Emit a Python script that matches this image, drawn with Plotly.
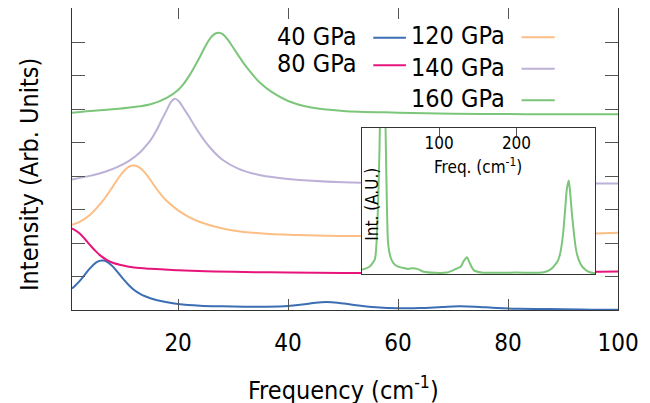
import plotly.graph_objects as go

FONT = "DejaVu Sans Condensed, DejaVu Sans, sans-serif"

# ---- data ----
names = ["40 GPa", "80 GPa", "120 GPa", "140 GPa", "160 GPa"]
colors = ["#3C6EB4", "#E7157B", "#FDBE85", "#BDB1D7", "#7CC67A"]

x40 = [0.7, 2, 3, 4, 5, 5.7, 6.3, 7, 8, 9, 10, 11, 12, 13, 14, 16, 18, 20, 24, 28, 32, 36, 40, 43, 45, 47, 49, 52, 56, 60, 64, 68, 71, 74, 78, 82, 86, 90, 95, 100]
y40 = [0.64, 0.85, 1.05, 1.25, 1.41, 1.47, 1.48, 1.45, 1.32, 1.13, 0.93, 0.75, 0.60, 0.49, 0.41, 0.30, 0.23, 0.18, 0.13, 0.11, 0.10, 0.10, 0.12, 0.17, 0.22, 0.24, 0.22, 0.15, 0.08, 0.05, 0.06, 0.09, 0.11, 0.10, 0.06, 0.04, 0.03, 0.02, 0.01, 0.01]

x80 = [0.7, 2, 3, 4, 5, 6, 7, 8, 10, 12, 15, 20, 25, 30, 40, 50, 60, 70, 80, 90, 100]
y80 = [2.44, 2.30, 2.13, 1.94, 1.76, 1.61, 1.50, 1.42, 1.33, 1.27, 1.23, 1.19, 1.16, 1.14, 1.12, 1.11, 1.11, 1.11, 1.12, 1.13, 1.15]

x120 = [0.7, 2, 4, 6, 7, 8, 9, 10, 11, 12, 13, 14, 15, 16, 17, 18, 20, 22, 24, 27, 30, 36, 45, 55, 65, 75, 85, 95, 100]
y120 = [2.55, 2.63, 2.85, 3.20, 3.42, 3.66, 3.91, 4.13, 4.28, 4.32, 4.26, 4.10, 3.88, 3.64, 3.43, 3.25, 2.98, 2.78, 2.63, 2.48, 2.38, 2.28, 2.23, 2.21, 2.21, 2.22, 2.24, 2.28, 2.31]

x140 = [0.7, 3, 5, 7, 9, 11, 13, 14, 15, 16, 17, 18, 18.7, 19.4, 20.1, 21, 22, 23, 24, 25, 26, 28, 31, 35, 40, 50, 60, 70, 80, 90, 100]
y140 = [3.90, 3.98, 4.05, 4.15, 4.28, 4.45, 4.70, 4.88, 5.08, 5.35, 5.68, 6.00, 6.22, 6.32, 6.25, 6.03, 5.78, 5.50, 5.25, 5.02, 4.82, 4.50, 4.22, 4.03, 3.92, 3.82, 3.79, 3.78, 3.78, 3.78, 3.78]

x160 = [0.7, 4, 8, 12, 15, 18, 20, 21, 22, 23, 24, 25, 26, 26.7, 27.4, 28.1, 29, 30, 31, 32, 33, 34, 35, 37, 40, 44, 50, 60, 70, 80, 90, 100]
y160 = [5.90, 5.95, 6.00, 6.07, 6.15, 6.35, 6.58, 6.76, 7.00, 7.28, 7.58, 7.90, 8.16, 8.26, 8.29, 8.25, 8.09, 7.85, 7.60, 7.36, 7.15, 6.95, 6.78, 6.52, 6.25, 6.06, 5.95, 5.90, 5.87, 5.86, 5.85, 5.85]

# inset (160 GPa, wide range)
xin = [0, 10, 17, 19, 21, 23, 25, 27.2, 29.5, 31, 32.5, 34, 37, 41, 47, 55, 60, 66, 72, 80, 95, 110, 118, 124, 128, 132, 136, 140, 145, 155, 180, 200, 225, 235, 242, 247, 250, 253, 256, 259, 261, 263, 265, 267.6, 269.5, 271.5, 273.8, 276, 278, 281, 285, 290, 296, 302]
yin = [0.03, 0.05, 0.10, 0.20, 0.45, 0.85, 1.50, 2.00, 1.50, 0.95, 0.50, 0.22, 0.12, 0.075, 0.05, 0.04, 0.035, 0.04, 0.035, 0.015, 0.008, 0.01, 0.025, 0.04, 0.05, 0.09, 0.115, 0.07, 0.025, 0.01, 0.008, 0.01, 0.008, 0.012, 0.025, 0.045, 0.065, 0.085, 0.13, 0.22, 0.32, 0.45, 0.58, 0.64, 0.55, 0.42, 0.30, 0.20, 0.14, 0.09, 0.05, 0.025, 0.01, 0.005]

main_x_ticks = [20, 40, 60, 80, 100]
inset_x_ticks = [100, 200]

xs = [x40, x80, x120, x140, x160]
ys = [y40, y80, y120, y140, y160]

fig = go.Figure()
for n, c, xx, yy in zip(names, colors, xs, ys):
    fig.add_trace(go.Scatter(x=xx, y=yy, name=n, mode="lines",
                             line=dict(color=c, width=2, shape="spline", smoothing=1.0),
                             xaxis="x", yaxis="y", showlegend=False))
fig.add_trace(go.Scatter(x=xin, y=yin, name="160 GPa inset", mode="lines",
                         line=dict(color=colors[4], width=2, shape="spline", smoothing=0.6),
                         xaxis="x2", yaxis="y2", showlegend=False))

# plot geometry in (window) pixels; page body has an 8px margin
OFF = 8
FW, FH = 650 - OFF, 403 - OFF
L, R, T, B = 71.7 - OFF, 618.3 - OFF, 8.3 - OFF, 310.3 - OFF
W, H = R - L, B - T
def px(xp):
    return (xp - OFF - L) / W
def py(yp):
    return (B - (yp - OFF)) / H

axcol = "#333333"
tickcol = "#555555"
fig.update_layout(
    width=FW, height=FH,
    margin=dict(l=L, r=FW - R, t=max(T, 0), b=FH - B, pad=0),
    paper_bgcolor="white", plot_bgcolor="white",
    font=dict(family=FONT, size=24, color="black"),
    xaxis=dict(domain=[0, 1], range=[0.7, 100], tickvals=main_x_ticks,
               ticks="inside", ticklen=11, tickcolor=tickcol, tickwidth=1,
               showline=True, linecolor=axcol, linewidth=1, mirror="ticks",
               showgrid=False, zeroline=False, ticklabelstandoff=11,
               tickfont=dict(size=24, color="black")),
    yaxis=dict(domain=[0, 1], range=[0, 9.03], dtick=1, tick0=0,
               ticks="inside", ticklen=13, tickcolor=tickcol, tickwidth=1,
               showline=True, linecolor=axcol, linewidth=1, mirror="ticks",
               showgrid=False, zeroline=False, showticklabels=False),
    xaxis2=dict(domain=[px(361.7), px(595.7)], range=[0, 302], anchor="y2",
                side="top", tickvals=inset_x_ticks, ticks="inside", ticklen=8,
                tickcolor=tickcol, ticklabelposition="inside",
                showline=True, linecolor=axcol, linewidth=1, mirror=True,
                showgrid=False, zeroline=False, ticklabelstandoff=2,
                tickfont=dict(size=17, color="black")),
    yaxis2=dict(domain=[py(274.3), py(128.3)], range=[0, 1], anchor="x2",
                showticklabels=False, ticks="",
                showline=True, linecolor=axcol, linewidth=1, mirror=True,
                showgrid=False, zeroline=False),
)

ann = []
# axis titles
ann.append(dict(text="Frequency (cm<sup>-1</sup>)", x=px(343), y=py(389), xref="paper", yref="paper",
                showarrow=False, xanchor="center", yanchor="middle", font=dict(size=25)))
ann.append(dict(text="Intensity (Arb. Units)", x=px(29), y=py(175), xref="paper", yref="paper",
                showarrow=False, textangle=-90, xanchor="center", yanchor="middle", font=dict(size=25)))
# inset titles
ann.append(dict(text="Freq. (cm<sup>-1</sup>)", x=px(478), y=py(166), xref="paper", yref="paper",
                showarrow=False, xanchor="center", yanchor="middle", font=dict(size=17)))
ann.append(dict(text="Int. (A.U.)", x=px(372), y=py(204), xref="paper", yref="paper",
                showarrow=False, textangle=-90, xanchor="center", yanchor="middle", font=dict(size=17)))

# legend (text left of line sample)
leg_rows = [(358.3, 373.3, 406.0, 38.0), (358.3, 373.3, 406.0, 65.5),
            (506.7, 521.7, 555.0, 37.5), (506.7, 521.7, 555.0, 69.0), (506.7, 521.7, 555.0, 100.5)]
shapes = []
for n, c, (tx, lx0, lx1, ly) in zip(names, colors, leg_rows):
    ann.append(dict(text=n, x=px(tx), y=py(ly - 1.5), xref="paper", yref="paper", showarrow=False,
                    xanchor="right", yanchor="middle", font=dict(size=25)))
    shapes.append(dict(type="line", xref="paper", yref="paper", x0=px(lx0), x1=px(lx1),
                       y0=py(ly), y1=py(ly), line=dict(color=c, width=2)))

fig.update_layout(annotations=ann, shapes=shapes)
fig.write_html("out.html")
